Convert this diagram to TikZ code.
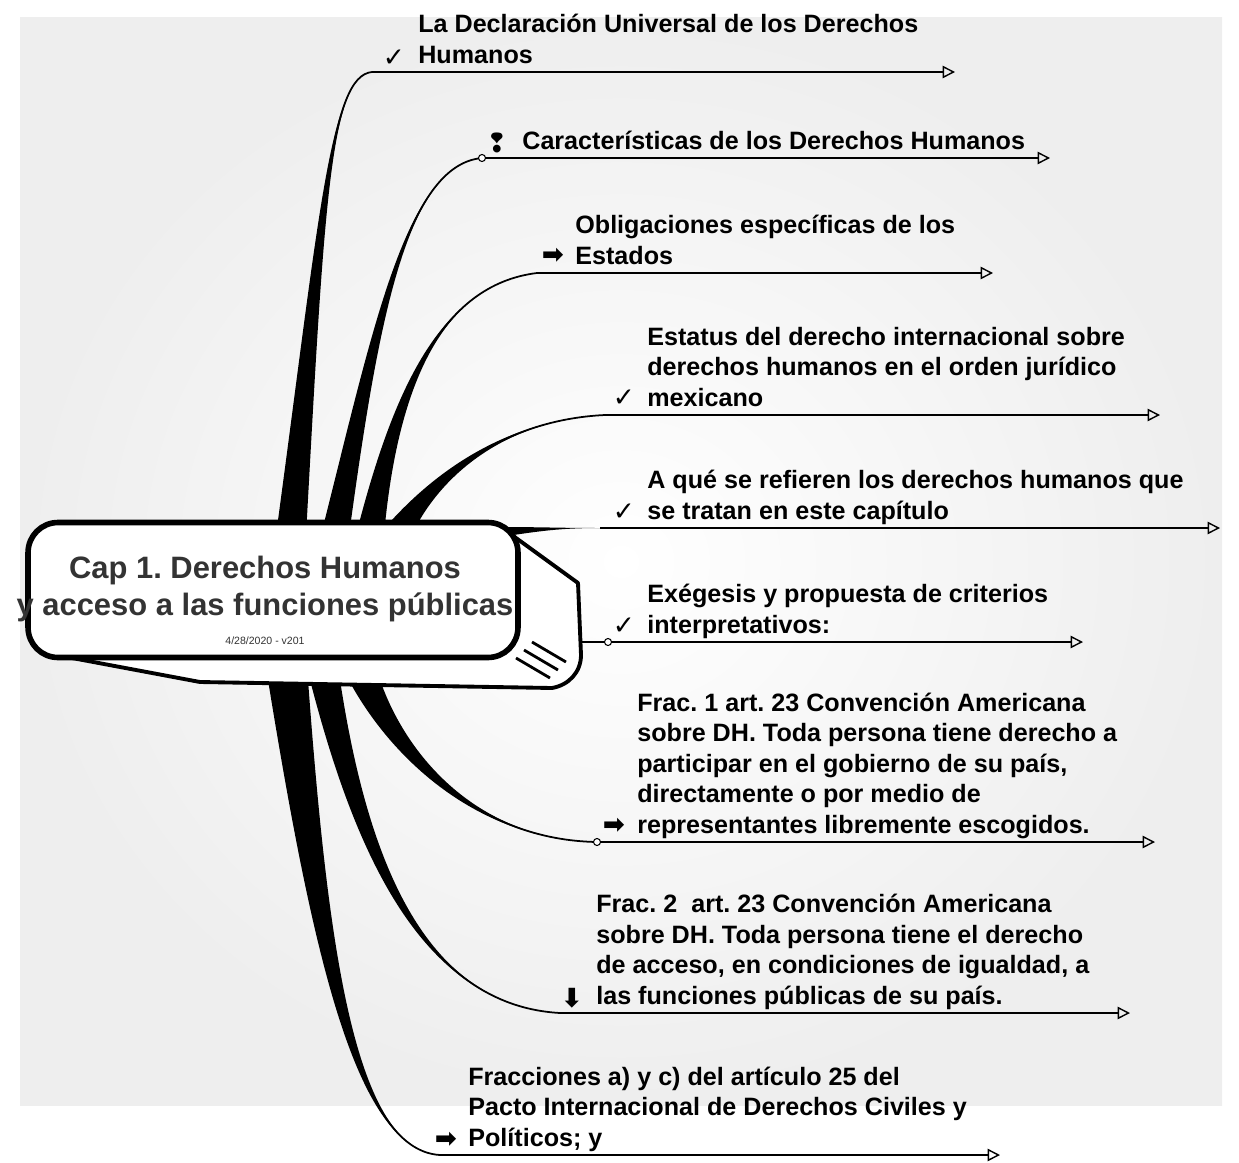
\documentclass[tikz,border=0pt]{standalone}
\usepackage{fontspec}
\setmainfont{Liberation Sans}
\newfontfamily\symfont{DejaVu Sans}
\usetikzlibrary{positioning,arrows.meta}
\definecolor{PanelGray}{HTML}{EEEEEE}
\definecolor{CapInk}{HTML}{333333}
\frenchspacing

\begin{document}
\begin{tikzpicture}[x=0.02cm, y=-0.02cm,
    topic/.style={anchor=south west, align=left, inner sep=0pt, text depth=3.5pt,
                  font=\bfseries\fontsize{14.3}{17.4}\selectfont},
    icon/.style={inner sep=0pt, font=\symfont\bfseries\fontsize{15}{15}\selectfont},
    spine/.style={line width=1pt, -{Triangle[open, length=7pt, width=7pt, line width=0.8pt]}},
    limbline/.style={line width=1pt},
    knot/.style={circle, draw, fill=white, inner sep=0pt, minimum size=4pt, line width=0.6pt},
    capbox/.style={draw, line width=3.2pt, fill=white, rounded corners=0.6cm,
                   minimum width=9.8cm, minimum height=2.7cm},
    captitle/.style={align=center, text=CapInk, inner sep=0pt,
                     font=\bfseries\fontsize{17.6}{21.6}\selectfont}
  ]
    \useasboundingbox (0,0) rectangle (1239,1162);
    \shade[inner color=white, outer color=PanelGray] (20,18) rectangle (1222,1105);

    % ends of the branches
    \coordinate (s1) at (372,72);   \coordinate (e1) at (955,72);
    \coordinate (s2) at (482,158);  \coordinate (e2) at (1050,158);
    \coordinate (s3) at (537,273);  \coordinate (e3) at (993,273);
    \coordinate (s4) at (605,415);  \coordinate (e4) at (1160,415);
    \coordinate (s5) at (600,528);  \coordinate (e5) at (1220,528);
    \coordinate (s6) at (608,642);  \coordinate (e6) at (1083,642);
    \coordinate (s7) at (597,842);  \coordinate (e7) at (1155,842);
    \coordinate (s8) at (560,1013); \coordinate (e8) at (1130,1013);
    \coordinate (s9) at (440,1155); \coordinate (e9) at (1000,1155);

    % tapered limbs
    \fill (276,535) .. controls (320,210) and (330,76) .. (s1) .. controls (330,76) and (324,210) .. (306,535) -- cycle;
    \fill (321,535) .. controls (373,330) and (405,165) .. (s2) .. controls (405,165) and (377,330) .. (349,535) -- cycle;
    \fill (356,535) .. controls (393,390) and (440,285) .. (s3) .. controls (440,285) and (397,390) .. (384,535) -- cycle;
    \fill (383,530) .. controls (428,478) and (500,420) .. (s4) .. controls (500,420) and (432,482) .. (407,546) -- cycle;
    \fill (500,527) .. controls (540,527) and (560,528) .. (s5) .. controls (560,528) and (540,531) .. (500,537) -- cycle;
    \fill (352,686) .. controls (395,762) and (480,840) .. (s7) .. controls (480,840) and (405,758) .. (378,674) -- cycle;
    \fill (310,680) .. controls (354,850) and (420,1005) .. (s8) .. controls (420,1005) and (366,850) .. (340,680) -- cycle;
    \fill (268,680) .. controls (312,950) and (355,1150) .. (s9) .. controls (355,1150) and (328,950) .. (308,680) -- cycle;

    \draw[limbline] (291,535) .. controls (322,210) and (330,76) .. (s1);
    \draw[limbline] (335,535) .. controls (375,330) and (405,165) .. (s2);
    \draw[limbline] (370,535) .. controls (395,390) and (440,285) .. (s3);
    \draw[limbline] (395,538) .. controls (430,480) and (500,420) .. (s4);
    \draw[limbline] (365,680) .. controls (400,760) and (480,840) .. (s7);
    \draw[limbline] (325,680) .. controls (360,850) and (420,1005) .. (s8);
    \draw[limbline] (288,680) .. controls (320,950) and (355,1150) .. (s9);
    \draw[limbline] (560,642) -- (s6);

    % horizontal spines
    \foreach \k in {1,...,9}
      \draw[spine] (s\k) -- (e\k);
    \node[knot] at (s2) {};
    \node[knot] at (s6) {};
    \node[knot] at (s7) {};

    % central block
    \draw[line width=2.2pt, fill=white, line join=round]
      (505,530) -- (578,583) -- (581,655) to[out=-90, in=10] (552,688)
      -- (200,682) -- (40,652) -- cycle;
    \foreach \d in {0,8,16}
      \draw[line width=1.6pt] (532-\d,642+\d) -- (566-\d,662+\d);
    \node[capbox] (cap) at (273,590) {};
    \node[captitle] (title) at (265,589) {Cap 1. Derechos Humanos\\y acceso a las funciones públicas};
    \node[font=\fontsize{6}{7}\selectfont, text=CapInk] (stamp) at (265,641) {4/28/2020 - v201};

    % topics
    \node[topic] (t1) at (418,70) {La Declaración Universal de los Derechos\\Humanos};
    \node[topic] (t2) at (522,156) {Características de los Derechos Humanos};
    \node[topic] (t3) at (575,271) {Obligaciones específicas de los\\Estados};
    \node[topic] (t4) at (647,413) {Estatus del derecho internacional sobre\\derechos humanos en el orden jurídico\\mexicano};
    \node[topic] (t5) at (647,526) {A qué se refieren los derechos humanos que\\se tratan en este capítulo};
    \node[topic] (t6) at (647,640) {Exégesis y propuesta de criterios\\interpretativos:};
    \node[topic] (t7) at (637,840) {Frac. 1 art. 23 Convención Americana\\sobre DH. Toda persona tiene derecho a\\participar en el gobierno de su país,\\directamente o por medio de\\representantes libremente escogidos.};
    \node[topic] (t8) at (596,1011) {Frac. 2\ \ art. 23 Convención Americana\\sobre DH. Toda persona tiene el derecho\\de acceso, en condiciones de igualdad, a\\las funciones públicas de su país.};
    \node[topic] (t9) at (468,1153) {Fracciones a) y c) del artículo 25 del\\Pacto Internacional de Derechos Civiles y\\Políticos; y};

    % icons
    \node[icon] (i1) at (394,58) {✓};
    \node[icon] (i2) at (497,143) {❢};
    \node[icon] (i3) at (553,256) {➡};
    \node[icon] (i4) at (624,398) {✓};
    \node[icon] (i5) at (624,512) {✓};
    \node[icon] (i6) at (624,626) {✓};
    \node[icon] (i7) at (614,826) {➡};
    \node[icon] (i8) at (572,998) {⬇};
    \node[icon] (i9) at (446,1140) {➡};
  \end{tikzpicture}
\end{document}
